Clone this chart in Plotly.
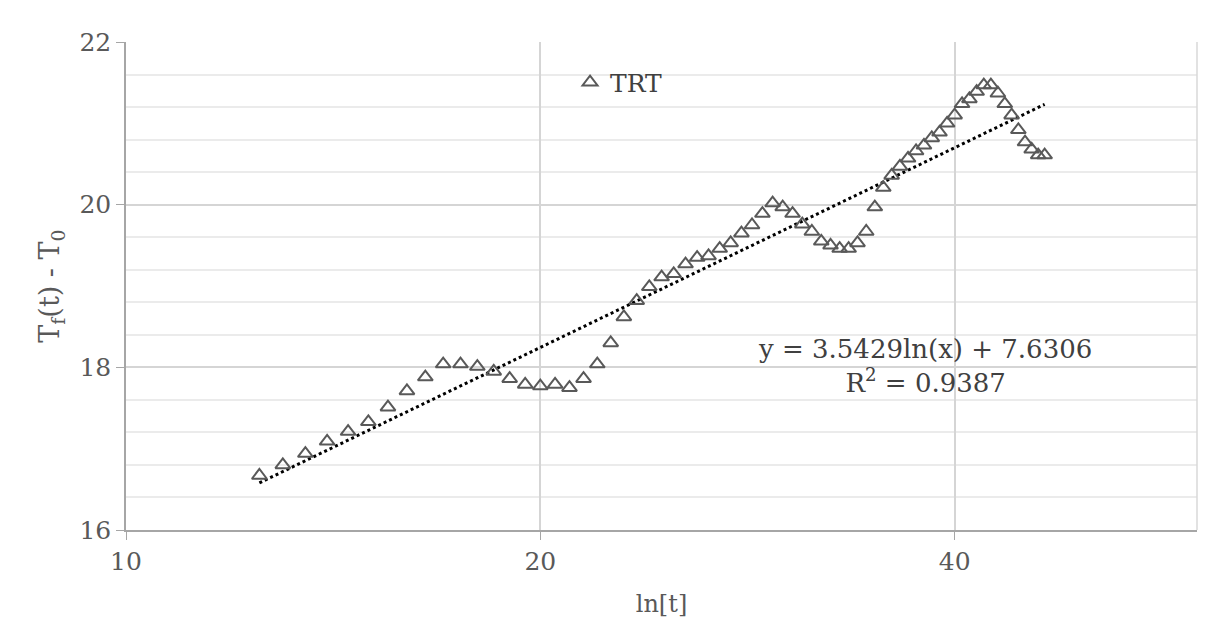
import numpy as np
import plotly.graph_objects as go

# ---- data ----
ln_t = [12.5, 13, 13.5, 14, 14.5, 15, 15.5, 16, 16.5, 17, 17.5, 18, 18.5, 19, 19.5,
        20, 20.5, 21, 21.5, 22, 22.5, 23, 23.5, 24, 24.5, 25, 25.5, 26, 26.5, 27,
        27.5, 28, 28.5, 29, 29.5, 30, 30.5, 31, 31.5, 32, 32.5, 33, 33.5, 34, 34.5,
        35, 35.5, 36, 36.5, 37, 37.5, 38, 38.5, 39, 39.5, 40, 40.5, 41, 41.5, 42,
        42.5, 43, 43.5, 44, 44.5, 45, 45.5, 46, 46.5]
trt = [16.67, 16.80, 16.94, 17.09, 17.21, 17.33, 17.51, 17.71, 17.88, 18.04, 18.04,
       18.01, 17.95, 17.86, 17.79, 17.77, 17.79, 17.75, 17.86, 18.04, 18.30, 18.62,
       18.82, 18.99, 19.11, 19.15, 19.27, 19.35, 19.37, 19.46, 19.53, 19.65, 19.75,
       19.89, 20.02, 19.97, 19.89, 19.76, 19.67, 19.55, 19.50, 19.46, 19.46, 19.53,
       19.67, 19.97, 20.21, 20.36, 20.47, 20.57, 20.66, 20.73, 20.82, 20.89, 21.00,
       21.10, 21.24, 21.30, 21.39, 21.47, 21.47, 21.37, 21.24, 21.10, 20.92, 20.77,
       20.68, 20.61, 20.61]
trend_slope = 3.5429
trend_intercept = 7.6306
r_squared = 0.9387
x_ticks = [10, 20, 40]
y_ticks = [16, 18, 20, 22]
series_name = "TRT"

trend_y = [trend_slope * np.log(x) + trend_intercept for x in ln_t]

FONT = "DejaVu Serif"
fig = go.Figure()
fig.add_trace(go.Scatter(
    x=ln_t, y=trend_y, mode="lines", showlegend=False, hoverinfo="skip",
    line=dict(color="black", width=3, dash="dot")))
fig.add_trace(go.Scatter(
    x=ln_t, y=trt, mode="markers", name=series_name,
    marker=dict(symbol="triangle-up-open", size=13, color="#595959",
                line=dict(width=2, color="#595959"))))

fig.update_layout(
    width=1225, height=619,
    margin=dict(l=118, r=36, t=34, b=97),
    paper_bgcolor="white", plot_bgcolor="white",
    font=dict(family=FONT, color="#595959", size=22),
    legend=dict(x=0.4146, y=0.917, xanchor="left", yanchor="middle",
                bgcolor="rgba(0,0,0,0)", font=dict(size=25, color="#404040")),
    annotations=[dict(
        xref="paper", yref="paper", x=0.746, y=1 - (366 - 42) / 488,
        xanchor="center", yanchor="middle", showarrow=False, align="center",
        text=f"y = {trend_slope}ln(x) + {trend_intercept}<br>R<sup>2</sup> = {r_squared}",
        font=dict(size=26, color="#404040", family=FONT))],
    shapes=[dict(type="line", xref="paper", yref="paper", x0=1, x1=1, y0=0, y1=1,
                 line=dict(color="#d9d9d9", width=1.5))],
)
fig.update_xaxes(
    type="log", range=[np.log10(10), np.log10(60)],
    tickvals=x_ticks, ticktext=[str(v) for v in x_ticks],
    ticks="outside", ticklen=8, tickcolor="#a6a6a6",
    showline=True, linecolor="#a6a6a6", linewidth=1.5,
    showgrid=True, gridcolor="#d5d5d5", gridwidth=1.5,
    tickfont=dict(size=25, color="#595959"),
    title=dict(text="ln[t]", font=dict(size=24, color="#595959"), standoff=20),
    zeroline=False)
fig.update_yaxes(
    range=[16, 22], tickvals=y_ticks,
    ticks="outside", ticklen=8, tickcolor="#a6a6a6",
    showline=True, linecolor="#a6a6a6", linewidth=1.5,
    showgrid=True, gridcolor="#d5d5d5", gridwidth=1.5,
    minor=dict(dtick=0.4, showgrid=True, gridcolor="#ebebeb", gridwidth=1.5, ticks=""),
    tickfont=dict(size=25, color="#595959"),
    title=dict(text="T<sub>f</sub>(t) - T<sub>0</sub>", font=dict(size=27, color="#595959"),
               standoff=12),
    zeroline=False)

fig.write_html("out.html")
